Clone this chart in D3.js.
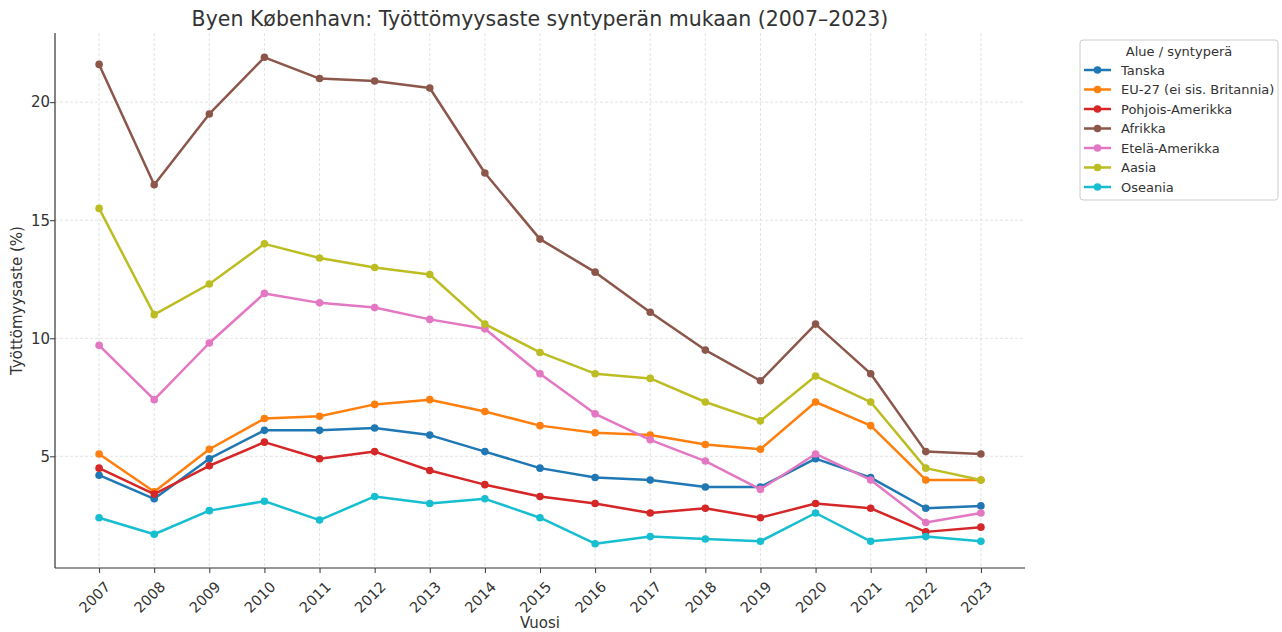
<!DOCTYPE html>
<html><head><meta charset="utf-8">
<script src="https://cdn.jsdelivr.net/npm/d3@7"></script>
<style>body{margin:0;background:#fff;} text{font-family:"DejaVu Sans",sans-serif;}</style>
</head><body><svg id="c" width="1282" height="632"></svg>
<script>
const years = [2007,2008,2009,2010,2011,2012,2013,2014,2015,2016,2017,2018,2019,2020,2021,2022,2023];
const seriesNames = ["Tanska","EU-27 (ei sis. Britannia)","Pohjois-Amerikka","Afrikka","Etelä-Amerikka","Aasia","Oseania"];
const colors = ["#1f77b4","#ff7f0e","#d62728","#8c564b","#e377c2","#bcbd22","#17becf"];
const tanska = [4.2,3.2,4.9,6.1,6.1,6.2,5.9,5.2,4.5,4.1,4.0,3.7,3.7,4.9,4.1,2.8,2.9];
const eu27 = [5.1,3.5,5.3,6.6,6.7,7.2,7.4,6.9,6.3,6.0,5.9,5.5,5.3,7.3,6.3,4.0,4.0];
const pohjoisAmerikka = [4.5,3.4,4.6,5.6,4.9,5.2,4.4,3.8,3.3,3.0,2.6,2.8,2.4,3.0,2.8,1.8,2.0];
const afrikka = [21.6,16.5,19.5,21.9,21.0,20.9,20.6,17.0,14.2,12.8,11.1,9.5,8.2,10.6,8.5,5.2,5.1];
const etelaAmerikka = [9.7,7.4,9.8,11.9,11.5,11.3,10.8,10.4,8.5,6.8,5.7,4.8,3.6,5.1,4.0,2.2,2.6];
const aasia = [15.5,11.0,12.3,14.0,13.4,13.0,12.7,10.6,9.4,8.5,8.3,7.3,6.5,8.4,7.3,4.5,4.0];
const oseania = [2.4,1.7,2.7,3.1,2.3,3.3,3.0,3.2,2.4,1.3,1.6,1.5,1.4,2.6,1.4,1.6,1.4];
const yTicks = [5,10,15,20];
const title = "Byen København: Työttömyysaste syntyperän mukaan (2007–2023)";
const xLabel = "Vuosi", yLabel = "Työttömyysaste (%)", legendTitle = "Alue / syntyperä";

const allSeries = [tanska,eu27,pohjoisAmerikka,afrikka,etelaAmerikka,aasia,oseania];
const svg = d3.select("#c");
const L=55, R=1025, T=33, B=568;
const x = d3.scaleLinear().domain([2007-0.8, 2023+0.8]).range([L,R]);
const allVals = allSeries.flat();
const mn = d3.min(allVals), mx = d3.max(allVals), pad=(mx-mn)*0.05;
const y = d3.scaleLinear().domain([mn-pad, mx+pad]).range([B,T]);

// grid
const g = svg.append("g");
g.selectAll(".vg").data(years).enter().append("line")
 .attr("x1",d=>x(d)).attr("x2",d=>x(d)).attr("y1",T).attr("y2",B)
 .attr("stroke","#dcdcdc").attr("stroke-width",0.8).attr("stroke-dasharray","3,2");
g.selectAll(".hg").data(yTicks).enter().append("line")
 .attr("x1",L).attr("x2",R).attr("y1",d=>y(d)).attr("y2",d=>y(d))
 .attr("stroke","#dcdcdc").attr("stroke-width",0.8).attr("stroke-dasharray","3,2");

// axes
const xa = svg.append("g").attr("transform",`translate(0,${B})`)
 .call(d3.axisBottom(x).tickValues(years).tickFormat(d3.format("d")).tickSizeOuter(0).tickSize(5));
xa.select(".domain").attr("stroke","#333").attr("stroke-width",1.2).attr("d",`M${L},0H${R}`);
xa.selectAll(".tick line").attr("stroke","#333");
xa.selectAll(".tick text").attr("font-size",14.5).attr("fill","#333")
 .attr("text-anchor","end").attr("dy",0).attr("transform","translate(6,14) rotate(-45)");

const ya = svg.append("g").attr("transform",`translate(${L},0)`)
 .call(d3.axisLeft(y).tickValues(yTicks).tickSizeOuter(0).tickSize(5));
ya.select(".domain").attr("stroke","#333").attr("stroke-width",1.2).attr("d",`M0,${T}V${B}`);
ya.selectAll(".tick line").attr("stroke","#333");
ya.selectAll(".tick text").attr("font-size",15).attr("fill","#333").attr("x",-5);

// lines
const line = d3.line().x((d,i)=>x(years[i])).y(d=>y(d));
allSeries.forEach((s,k)=>{
  svg.append("path").datum(s).attr("d",line).attr("fill","none")
    .attr("stroke",colors[k]).attr("stroke-width",2.5).attr("stroke-linejoin","round");
  svg.append("g").selectAll("circle").data(s).enter().append("circle")
    .attr("cx",(d,i)=>x(years[i])).attr("cy",d=>y(d)).attr("r",3.8).attr("fill",colors[k]);
});

// labels
svg.append("text").attr("x",(L+R)/2).attr("y",26).attr("text-anchor","middle")
 .attr("font-size",20.5).attr("fill","#333").text(title);
svg.append("text").attr("x",(L+R)/2).attr("y",628).attr("text-anchor","middle")
 .attr("font-size",15).attr("fill","#333").text(xLabel);
svg.append("text").attr("transform",`translate(22,${(T+B)/2}) rotate(-90)`).attr("text-anchor","middle")
 .attr("font-size",15).attr("fill","#333").text(yLabel);

// legend
const lg = svg.append("g");
lg.append("rect").attr("x",1080).attr("y",40).attr("width",198).attr("height",160).attr("rx",3)
 .attr("fill","#fff").attr("stroke","#ccc").attr("stroke-width",1);
lg.append("text").attr("x",1179).attr("y",56).attr("text-anchor","middle").attr("font-size",13).attr("fill","#333").text(legendTitle);
seriesNames.forEach((n,k)=>{
  const yy = 70 + k*19.5;
  lg.append("line").attr("x1",1084).attr("x2",1111).attr("y1",yy).attr("y2",yy).attr("stroke",colors[k]).attr("stroke-width",2.5);
  lg.append("circle").attr("cx",1097.5).attr("cy",yy).attr("r",3.8).attr("fill",colors[k]);
  lg.append("text").attr("x",1121).attr("y",yy+4.5).attr("font-size",13).attr("fill","#333").text(n);
});
</script></body></html>
